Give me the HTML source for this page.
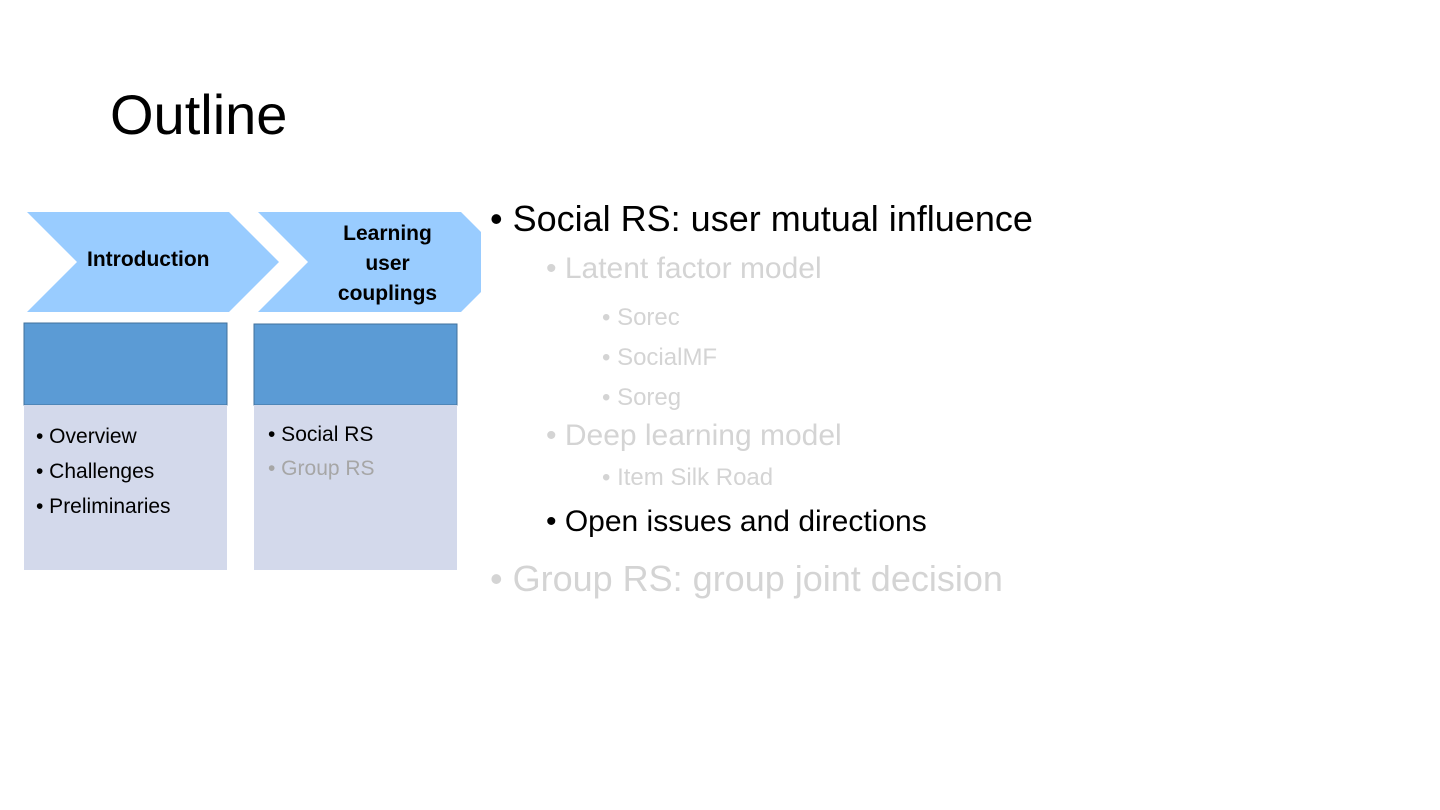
<!DOCTYPE html>
<html><head><style>
body{margin:0;width:1440px;height:810px;background:#fff;position:relative;overflow:hidden;font-family:"Liberation Sans",sans-serif;}
.a{position:absolute;white-space:nowrap;}
.t{font-size:56px;left:110px;top:82px;color:#000;font-weight:300;}
.g{color:#d4d4d4}
</style></head><body>
<div class="a t">Outline</div>
<svg class="a" style="left:0;top:0" width="500" height="600">
<polygon points="27,212 229,212 279,262 229,312 27,312 77,262" fill="#99ccff"/>
<polygon points="258,212 461,212 481,232 481,292 461,312 258,312 308,262" fill="#99ccff"/>
<rect x="24" y="323" width="203" height="82" fill="#5b9bd5" stroke="#41719c" stroke-width="1"/>
<rect x="24" y="405" width="203" height="165" fill="#d3d9eb"/>
<rect x="254" y="324" width="203" height="81" fill="#5b9bd5" stroke="#41719c" stroke-width="1"/>
<rect x="254" y="405" width="203" height="165" fill="#d3d9eb"/>
</svg>
<div class="a" style="left:87px;top:248px;font-size:21px;font-weight:bold">Introduction</div>
<div class="a" style="left:320px;top:219px;width:135px;text-align:center;font-size:21px;font-weight:bold;line-height:30px">Learning<br>user<br>couplings</div>
<div class="a" style="left:36px;top:419px;font-size:21px;line-height:35px">• Overview<br>• Challenges<br>• Preliminaries</div>
<div class="a" style="left:268px;top:418px;font-size:21px;line-height:34px">• Social RS<br><span style="color:#a6a6a6">• Group RS</span></div>
<div class="a" style="left:490px;top:198px;font-size:36px">• Social RS: user mutual influence</div>
<div class="a g" style="left:546px;top:252px;font-size:30px">• Latent factor model</div>
<div class="a g" style="left:602px;top:298px;font-size:24px;line-height:40px">• Sorec<br>• SocialMF<br>• Soreg</div>
<div class="a g" style="left:546px;top:419px;font-size:30px">• Deep learning model</div>
<div class="a g" style="left:602px;top:464px;font-size:24px">• Item Silk Road</div>
<div class="a" style="left:546px;top:505px;font-size:30px">• Open issues and directions</div>
<div class="a g" style="left:490px;top:558px;font-size:36px">• Group RS: group joint decision</div>
</body></html>
